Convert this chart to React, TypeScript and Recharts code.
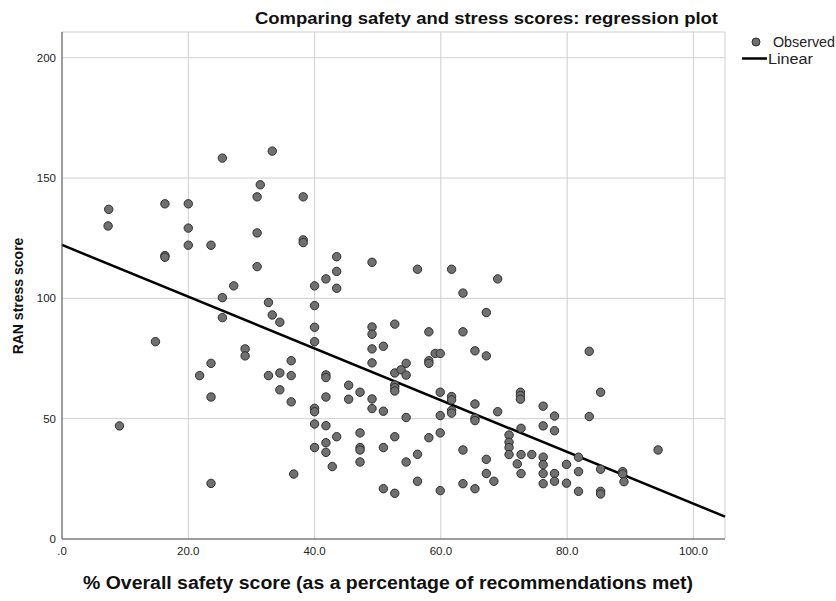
import { ScatterChart, Scatter, XAxis, YAxis, CartesianGrid, ReferenceLine } from "recharts";

// % overall safety score (x) and RAN stress score (y)
const safetyScores = [
  25.4, 7.4, 7.3, 16.3, 20.0, 20.0, 20.0, 23.6, 16.3, 16.3, 27.2, 25.4,
  33.3, 31.4, 30.9, 38.2, 30.9, 38.2, 38.2, 30.9, 43.5, 49.1, 43.5, 41.8,
  43.5, 40.0, 32.7, 33.3, 34.5, 25.4, 14.8, 23.6, 21.8, 23.6, 9.1, 23.6,
  40.0, 40.0, 40.0, 29.0, 29.0, 36.3, 32.7, 34.5, 36.3, 34.5, 36.3, 41.8,
  41.8, 41.8, 45.4, 47.2, 45.4, 49.1, 49.1, 52.7, 49.1, 50.9, 49.1, 52.7,
  52.7, 52.7, 52.7, 49.1, 49.1, 50.9, 40.0, 40.0, 40.0, 41.8, 43.5, 47.2,
  52.7, 40.0, 41.8, 41.8, 47.2, 47.2, 50.9, 42.8, 47.2, 36.7, 50.9, 52.7,
  56.3, 61.7, 69.0, 63.5, 67.2, 58.1, 63.5, 59.1, 59.9, 65.4, 67.2, 58.1,
  58.1, 54.5, 53.7, 54.5, 59.9, 61.7, 61.7, 65.4, 61.7, 61.7, 59.9, 54.5,
  65.4, 65.4, 69.0, 72.6, 72.6, 72.6, 76.2, 78.0, 58.1, 59.9, 63.5, 56.3,
  54.5, 56.3, 59.9, 63.5, 65.4, 67.2, 67.2, 68.4, 70.8, 70.8, 70.8, 70.8,
  72.7, 72.7, 74.4, 72.1, 72.7, 76.2, 78.0, 76.2, 76.2, 76.2, 76.2, 78.0,
  78.0, 83.5, 85.3, 83.5, 94.4, 79.9, 81.8, 79.9, 81.8, 81.8, 85.3, 85.3,
  85.3, 88.8, 88.8, 89.0,
];
const stressScores = [
  158.3, 137.0, 130.1, 139.3, 139.3, 129.2, 122.1, 122.1, 117.8, 117.1, 105.2, 100.3,
  161.2, 147.2, 142.2, 142.2, 127.2, 124.3, 123.2, 113.2, 117.3, 115.0, 111.2, 108.1,
  104.2, 105.2, 98.3, 93.1, 90.1, 92.0, 82.0, 73.0, 67.9, 59.0, 47.0, 23.1,
  97.0, 88.0, 82.0, 79.0, 76.1, 74.1, 67.9, 69.0, 67.9, 62.0, 57.0, 68.2,
  67.1, 59.0, 63.9, 61.0, 58.1, 88.1, 85.1, 89.3, 79.0, 80.1, 73.2, 69.0,
  64.0, 62.9, 61.5, 58.2, 54.2, 53.1, 54.3, 52.9, 47.8, 47.1, 42.5, 44.1,
  42.5, 38.0, 40.0, 36.0, 38.0, 37.0, 38.0, 30.1, 32.0, 27.0, 20.9, 19.0,
  112.1, 112.1, 108.1, 102.2, 94.1, 86.1, 86.1, 77.1, 77.1, 78.2, 76.1, 74.1,
  73.0, 73.0, 70.3, 68.1, 61.0, 59.2, 57.8, 56.1, 53.4, 52.3, 51.3, 50.5,
  50.2, 49.2, 52.9, 61.0, 59.6, 58.1, 55.2, 51.1, 42.1, 44.1, 37.0, 35.2,
  32.0, 24.0, 20.1, 23.0, 20.9, 33.1, 27.2, 24.0, 43.2, 40.2, 38.0, 35.1,
  46.0, 35.1, 35.1, 31.2, 27.2, 47.0, 45.0, 34.0, 30.9, 27.2, 23.0, 27.2,
  24.0, 78.0, 61.0, 50.9, 37.0, 31.0, 34.0, 23.2, 28.0, 19.8, 29.0, 19.8,
  18.7, 28.0, 27.0, 23.8,
];

// fitted linear line, endpoints read at the plot edges
const lineX = [0, 105];
const lineY = [122.2, 9.3];

const xTicks = [0, 20, 40, 60, 80, 100];
const xTickLabels = [".0", "20.0", "40.0", "60.0", "80.0", "100.0"];
const yTicks = [0, 50, 100, 150, 200];

const observed = safetyScores.map((x, i) => ({ x, y: stressScores[i] }));

const FONT = "'Liberation Sans', Arial, sans-serif";

const Dot = (p: any) => (
  <circle cx={p.cx} cy={p.cy} r={4.2} fill="#707070" stroke="#2e2e2e" strokeWidth={1} />
);

export default function App() {
  return (
    <div style={{ position: "absolute", left: 0, top: 0, width: 836, height: 601, background: "#fff" }}>
      <ScatterChart width={836} height={601} margin={{ top: 32, right: 111, bottom: 32, left: 0 }}>
        <CartesianGrid stroke="#cfcfcf" ticks={xTicks} />
        <XAxis
          type="number"
          dataKey="x"
          domain={[0, 105]}
          ticks={xTicks}
          tickFormatter={(v: number) => xTickLabels[xTicks.indexOf(v)] ?? String(v)}
          tickLine={false}
          tickSize={6}
          height={30}
          stroke="#555"
          tick={{ fill: "#222", fontSize: 11.5, fontFamily: FONT }}
        />
        <YAxis
          type="number"
          dataKey="y"
          domain={[0, 210.7]}
          ticks={yTicks}
          tickLine={false}
          tickSize={4}
          width={62}
          stroke="#555"
          tick={{ fill: "#222", fontSize: 11.5, fontFamily: FONT }}
        />
        <Scatter data={observed} shape={Dot} isAnimationActive={false} />
        <ReferenceLine
          segment={[
            { x: lineX[0], y: lineY[0] },
            { x: lineX[1], y: lineY[1] },
          ]}
          stroke="#000"
          strokeWidth={2.5}
        />
      </ScatterChart>
      <svg
        width={836}
        height={601}
        style={{ position: "absolute", left: 0, top: 0, pointerEvents: "none" }}
      >
        <text
          x={255}
          y={24}
          textLength={463}
          lengthAdjust="spacingAndGlyphs"
          fontFamily={FONT}
          fontWeight="bold"
          fontSize={17}
          fill="#111"
        >
          Comparing safety and stress scores: regression plot
        </text>
        <text
          x={23}
          y={296}
          transform="rotate(-90 23 296)"
          textAnchor="middle"
          fontFamily={FONT}
          fontWeight="bold"
          fontSize={14}
          fill="#111"
        >
          RAN stress score
        </text>
        <text
          x={83}
          y={589}
          textLength={610}
          lengthAdjust="spacingAndGlyphs"
          fontFamily={FONT}
          fontWeight="bold"
          fontSize={18}
          fill="#111"
        >
          % Overall safety score (as a percentage of recommendations met)
        </text>
        <circle cx={756} cy={42} r={4} fill="#707070" stroke="#2e2e2e" strokeWidth={1} />
        <text x={773} y={47} textLength={62} lengthAdjust="spacingAndGlyphs" fontFamily={FONT} fontSize={14} fill="#222">
          Observed
        </text>
        <line x1={742} y1={58.5} x2={767} y2={58.5} stroke="#000" strokeWidth={2.5} />
        <text x={768} y={63.5} textLength={45} lengthAdjust="spacingAndGlyphs" fontFamily={FONT} fontSize={14} fill="#222">
          Linear
        </text>
      </svg>
    </div>
  );
}
